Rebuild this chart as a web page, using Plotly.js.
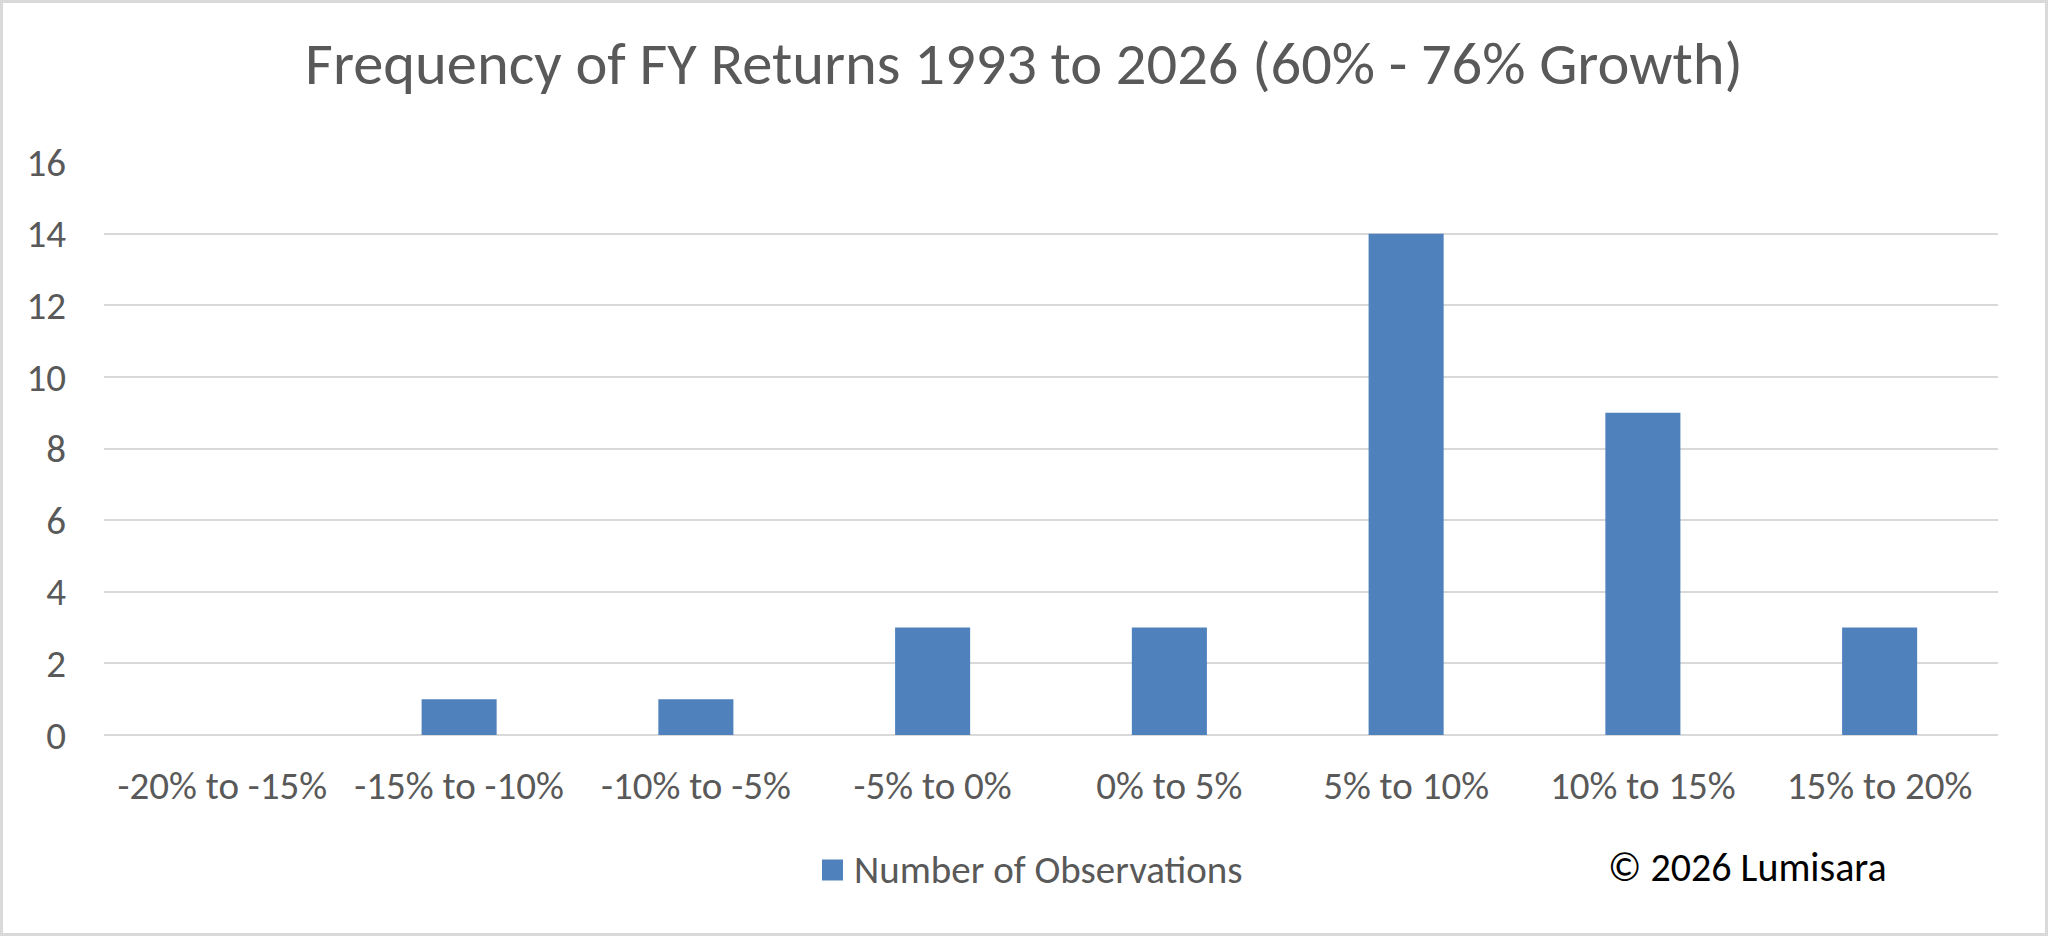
<!DOCTYPE html>
<html>
<head>
<meta charset="utf-8">
<script src="https://cdn.plot.ly/plotly-3.0.1.min.js"></script>
<style>
  html, body { margin: 0; padding: 0; background: #fff; }
  #wrap { position: relative; width: 2048px; height: 936px; }
  #frame { position: absolute; left: 0; top: 0; width: 2048px; height: 936px;
           box-sizing: border-box; border: 3px solid #d9d9d9; pointer-events: none; }
</style>
</head>
<body>
<div id="wrap">
  <div id="chart"></div>
  <div id="frame"></div>
</div>
<script>
// return buckets and how many years fell in each
let bucket_Labels = ["-20% to -15%", "-15% to -10%", "-10% to -5%", "-5% to 0%",
                     "0% to 5%", "5% to 10%", "10% to 15%", "15% to 20%"]
let observation_Counts = [0, 1, 1, 3, 3, 14, 9, 3]
let y_Tick_Values = [0, 2, 4, 6, 8, 10, 12, 14, 16]
let series_Name = 'Number of Observations'

let fontFam = "Carlito, Lato, 'Liberation Sans', sans-serif"
let textGray = "#595959"
let barBlue = '#4f81bd'

let trace1 = {
    x: bucket_Labels,
    y: observation_Counts,
    type: 'bar',
    name: series_Name,
    marker: { color: barBlue },
    showlegend: false
};

// legend key drawn by hand so the swatch can be Excel sized
let legY = -0.2356
let layout = {
    width: 2048,
    height: 936,
    paper_bgcolor: '#ffffff',
    plot_bgcolor: '#ffffff',
    margin: { l: 104, r: 50, t: 162, b: 201 },
    bargap: 0.683,
    font: { family: fontFam, color: textGray },
    title: {
        text: 'Frequency of FY Returns 1993 to 2026 (60% - 76% Growth)',
        font: { family: fontFam, size: 60.5, color: textGray },
        x: 0.5, xref: 'container', xanchor: 'center',
        y: 1 - 63 / 936, yref: 'container', yanchor: 'middle'
    },
    xaxis: {
        type: 'category',
        tickfont: { family: fontFam, size: 39, color: textGray },
        showgrid: false,
        showline: false,
        ticks: '',
        ticklabelstandoff: 24
    },
    yaxis: {
        range: [0, 16],
        tickvals: y_Tick_Values,
        tickfont: { family: fontFam, size: 39, color: textGray },
        showgrid: true,
        gridcolor: '#d9d9d9',
        gridwidth: 2,
        zeroline: true,
        zerolinecolor: '#d9d9d9',
        zerolinewidth: 2,
        showline: false,
        ticks: '',
        ticklabelstandoff: 37
    },
    showlegend: false,
    shapes: [{
        type: 'rect', xref: 'paper', yref: 'paper',
        x0: (822 - 104) / 1894, x1: (843 - 104) / 1894,
        y0: legY - 10.5 / 573, y1: legY + 10.5 / 573,
        fillcolor: barBlue, line: { width: 0 }
    }],
    annotations: [{
        text: series_Name,
        xref: 'paper', yref: 'paper',
        x: (852 - 104) / 1894, y: legY,
        xanchor: 'left', yanchor: 'middle',
        showarrow: false,
        font: { family: fontFam, size: 39, color: textGray }
    }, {
        text: '© 2026 Lumisara',
        xref: 'paper', yref: 'paper',
        x: 0.868, y: -0.231,
        xanchor: 'center', yanchor: 'middle',
        showarrow: false,
        font: { family: fontFam, size: 40, color: '#000000' }
    }]
};

Plotly.newPlot('chart', [trace1], layout, { displayModeBar: false, staticPlot: true });
</script>
</body>
</html>
